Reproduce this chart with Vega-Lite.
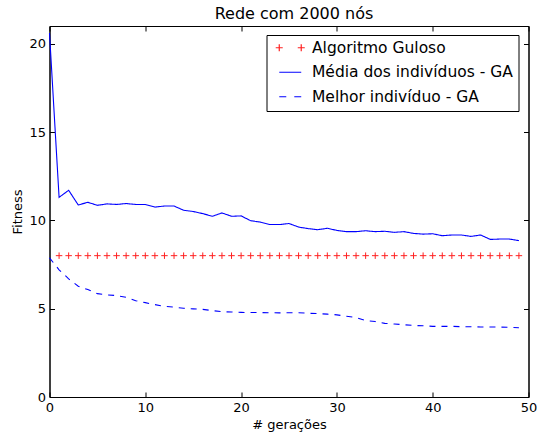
{
"$schema": "https://vega.github.io/schema/vega-lite/v6.json",
"width": 479, "height": 371,
"autosize": {"type": "none"},
"padding": {"left": 49.5, "top": 26, "right": 8.5, "bottom": 37},
"title": {"text": "Rede com 2000 nós", "fontSize": 16, "font": "DejaVu Sans", "fontWeight": "normal", "color": "black", "offset": 4, "frame": "group", "anchor": "middle", "dx": 5},
"config": {
  "font": "DejaVu Sans",
  "view": {"stroke": "black", "strokeWidth": 1},
  "axis": {"domainColor": "black", "tickColor": "black", "labelColor": "black", "titleColor": "black", "labelFontSize": 13, "titleFontSize": 13, "titleFontWeight": "normal", "grid": false, "tickSize": -5, "labelFlush": false, "labelFont": "DejaVu Sans", "titleFont": "DejaVu Sans"}
},
"data": {"values": [
{"g":0,"s":"Média dos indivíduos - GA","v":20.6},{"g":1,"s":"Média dos indivíduos - GA","v":11.3},{"g":2,"s":"Média dos indivíduos - GA","v":11.7},{"g":3,"s":"Média dos indivíduos - GA","v":10.87},{"g":4,"s":"Média dos indivíduos - GA","v":11.02},{"g":5,"s":"Média dos indivíduos - GA","v":10.85},{"g":6,"s":"Média dos indivíduos - GA","v":10.93},{"g":7,"s":"Média dos indivíduos - GA","v":10.9},{"g":8,"s":"Média dos indivíduos - GA","v":10.95},{"g":9,"s":"Média dos indivíduos - GA","v":10.9},
{"g":10,"s":"Média dos indivíduos - GA","v":10.9},{"g":11,"s":"Média dos indivíduos - GA","v":10.75},{"g":12,"s":"Média dos indivíduos - GA","v":10.81},{"g":13,"s":"Média dos indivíduos - GA","v":10.81},{"g":14,"s":"Média dos indivíduos - GA","v":10.57},{"g":15,"s":"Média dos indivíduos - GA","v":10.5},{"g":16,"s":"Média dos indivíduos - GA","v":10.38},{"g":17,"s":"Média dos indivíduos - GA","v":10.23},{"g":18,"s":"Média dos indivíduos - GA","v":10.42},{"g":19,"s":"Média dos indivíduos - GA","v":10.23},
{"g":20,"s":"Média dos indivíduos - GA","v":10.25},{"g":21,"s":"Média dos indivíduos - GA","v":9.98},{"g":22,"s":"Média dos indivíduos - GA","v":9.9},{"g":23,"s":"Média dos indivíduos - GA","v":9.76},{"g":24,"s":"Média dos indivíduos - GA","v":9.76},{"g":25,"s":"Média dos indivíduos - GA","v":9.82},{"g":26,"s":"Média dos indivíduos - GA","v":9.62},{"g":27,"s":"Média dos indivíduos - GA","v":9.53},{"g":28,"s":"Média dos indivíduos - GA","v":9.47},{"g":29,"s":"Média dos indivíduos - GA","v":9.55},
{"g":30,"s":"Média dos indivíduos - GA","v":9.43},{"g":31,"s":"Média dos indivíduos - GA","v":9.36},{"g":32,"s":"Média dos indivíduos - GA","v":9.36},{"g":33,"s":"Média dos indivíduos - GA","v":9.41},{"g":34,"s":"Média dos indivíduos - GA","v":9.36},{"g":35,"s":"Média dos indivíduos - GA","v":9.38},{"g":36,"s":"Média dos indivíduos - GA","v":9.32},{"g":37,"s":"Média dos indivíduos - GA","v":9.36},{"g":38,"s":"Média dos indivíduos - GA","v":9.26},{"g":39,"s":"Média dos indivíduos - GA","v":9.22},
{"g":40,"s":"Média dos indivíduos - GA","v":9.24},{"g":41,"s":"Média dos indivíduos - GA","v":9.13},{"g":42,"s":"Média dos indivíduos - GA","v":9.17},{"g":43,"s":"Média dos indivíduos - GA","v":9.17},{"g":44,"s":"Média dos indivíduos - GA","v":9.09},{"g":45,"s":"Média dos indivíduos - GA","v":9.17},{"g":46,"s":"Média dos indivíduos - GA","v":8.92},{"g":47,"s":"Média dos indivíduos - GA","v":8.94},{"g":48,"s":"Média dos indivíduos - GA","v":8.94},{"g":49,"s":"Média dos indivíduos - GA","v":8.85},
{"g":0,"s":"Melhor indivíduo - GA","v":7.88},{"g":1,"s":"Melhor indivíduo - GA","v":7.2},{"g":2,"s":"Melhor indivíduo - GA","v":6.69},{"g":3,"s":"Melhor indivíduo - GA","v":6.27},{"g":4,"s":"Melhor indivíduo - GA","v":6.08},{"g":5,"s":"Melhor indivíduo - GA","v":5.85},{"g":6,"s":"Melhor indivíduo - GA","v":5.78},{"g":7,"s":"Melhor indivíduo - GA","v":5.74},{"g":8,"s":"Melhor indivíduo - GA","v":5.64},{"g":9,"s":"Melhor indivíduo - GA","v":5.45},
{"g":10,"s":"Melhor indivíduo - GA","v":5.34},{"g":11,"s":"Melhor indivíduo - GA","v":5.23},{"g":12,"s":"Melhor indivíduo - GA","v":5.13},{"g":13,"s":"Melhor indivíduo - GA","v":5.09},{"g":14,"s":"Melhor indivíduo - GA","v":5.02},{"g":15,"s":"Melhor indivíduo - GA","v":4.99},{"g":16,"s":"Melhor indivíduo - GA","v":4.96},{"g":17,"s":"Melhor indivíduo - GA","v":4.89},{"g":18,"s":"Melhor indivíduo - GA","v":4.83},{"g":19,"s":"Melhor indivíduo - GA","v":4.81},
{"g":20,"s":"Melhor indivíduo - GA","v":4.79},{"g":21,"s":"Melhor indivíduo - GA","v":4.78},{"g":22,"s":"Melhor indivíduo - GA","v":4.78},{"g":23,"s":"Melhor indivíduo - GA","v":4.77},{"g":24,"s":"Melhor indivíduo - GA","v":4.76},{"g":25,"s":"Melhor indivíduo - GA","v":4.77},{"g":26,"s":"Melhor indivíduo - GA","v":4.77},{"g":27,"s":"Melhor indivíduo - GA","v":4.74},{"g":28,"s":"Melhor indivíduo - GA","v":4.72},{"g":29,"s":"Melhor indivíduo - GA","v":4.69},
{"g":30,"s":"Melhor indivíduo - GA","v":4.65},{"g":31,"s":"Melhor indivíduo - GA","v":4.57},{"g":32,"s":"Melhor indivíduo - GA","v":4.5},{"g":33,"s":"Melhor indivíduo - GA","v":4.32},{"g":34,"s":"Melhor indivíduo - GA","v":4.27},{"g":35,"s":"Melhor indivíduo - GA","v":4.17},{"g":36,"s":"Melhor indivíduo - GA","v":4.13},{"g":37,"s":"Melhor indivíduo - GA","v":4.09},{"g":38,"s":"Melhor indivíduo - GA","v":4.05},{"g":39,"s":"Melhor indivíduo - GA","v":4.03},
{"g":40,"s":"Melhor indivíduo - GA","v":4.0},{"g":41,"s":"Melhor indivíduo - GA","v":4.0},{"g":42,"s":"Melhor indivíduo - GA","v":4.0},{"g":43,"s":"Melhor indivíduo - GA","v":3.98},{"g":44,"s":"Melhor indivíduo - GA","v":3.98},{"g":45,"s":"Melhor indivíduo - GA","v":3.96},{"g":46,"s":"Melhor indivíduo - GA","v":3.96},{"g":47,"s":"Melhor indivíduo - GA","v":3.96},{"g":48,"s":"Melhor indivíduo - GA","v":3.94},{"g":49,"s":"Melhor indivíduo - GA","v":3.92},
{"g":1,"s":"Algoritmo Guloso","v":8},{"g":2,"s":"Algoritmo Guloso","v":8},{"g":3,"s":"Algoritmo Guloso","v":8},{"g":4,"s":"Algoritmo Guloso","v":8},{"g":5,"s":"Algoritmo Guloso","v":8},{"g":6,"s":"Algoritmo Guloso","v":8},{"g":7,"s":"Algoritmo Guloso","v":8},{"g":8,"s":"Algoritmo Guloso","v":8},{"g":9,"s":"Algoritmo Guloso","v":8},
{"g":10,"s":"Algoritmo Guloso","v":8},{"g":11,"s":"Algoritmo Guloso","v":8},{"g":12,"s":"Algoritmo Guloso","v":8},{"g":13,"s":"Algoritmo Guloso","v":8},{"g":14,"s":"Algoritmo Guloso","v":8},{"g":15,"s":"Algoritmo Guloso","v":8},{"g":16,"s":"Algoritmo Guloso","v":8},{"g":17,"s":"Algoritmo Guloso","v":8},{"g":18,"s":"Algoritmo Guloso","v":8},{"g":19,"s":"Algoritmo Guloso","v":8},
{"g":20,"s":"Algoritmo Guloso","v":8},{"g":21,"s":"Algoritmo Guloso","v":8},{"g":22,"s":"Algoritmo Guloso","v":8},{"g":23,"s":"Algoritmo Guloso","v":8},{"g":24,"s":"Algoritmo Guloso","v":8},{"g":25,"s":"Algoritmo Guloso","v":8},{"g":26,"s":"Algoritmo Guloso","v":8},{"g":27,"s":"Algoritmo Guloso","v":8},{"g":28,"s":"Algoritmo Guloso","v":8},{"g":29,"s":"Algoritmo Guloso","v":8},
{"g":30,"s":"Algoritmo Guloso","v":8},{"g":31,"s":"Algoritmo Guloso","v":8},{"g":32,"s":"Algoritmo Guloso","v":8},{"g":33,"s":"Algoritmo Guloso","v":8},{"g":34,"s":"Algoritmo Guloso","v":8},{"g":35,"s":"Algoritmo Guloso","v":8},{"g":36,"s":"Algoritmo Guloso","v":8},{"g":37,"s":"Algoritmo Guloso","v":8},{"g":38,"s":"Algoritmo Guloso","v":8},{"g":39,"s":"Algoritmo Guloso","v":8},
{"g":40,"s":"Algoritmo Guloso","v":8},{"g":41,"s":"Algoritmo Guloso","v":8},{"g":42,"s":"Algoritmo Guloso","v":8},{"g":43,"s":"Algoritmo Guloso","v":8},{"g":44,"s":"Algoritmo Guloso","v":8},{"g":45,"s":"Algoritmo Guloso","v":8},{"g":46,"s":"Algoritmo Guloso","v":8},{"g":47,"s":"Algoritmo Guloso","v":8},{"g":48,"s":"Algoritmo Guloso","v":8},{"g":49,"s":"Algoritmo Guloso","v":8}
]},
"layer": [
  {
    "transform": [{"filter": "datum.s != 'Algoritmo Guloso'"}],
    "mark": {"type": "line", "strokeWidth": 1.1},
    "encoding": {
      "x": {"field": "g", "type": "quantitative", "scale": {"domain": [0, 50], "nice": false}, "axis": {"values": [0, 10, 20, 30, 40, 50], "title": "# gerações", "labelPadding": 9, "titlePadding": 4}},
      "y": {"field": "v", "type": "quantitative", "scale": {"domain": [0, 21], "nice": false}, "axis": {"values": [0, 5, 10, 15, 20], "title": "Fitness", "labelPadding": 9, "titlePadding": 4}},
      "color": {"field": "s", "type": "nominal",
        "scale": {"domain": ["Algoritmo Guloso", "Média dos indivíduos - GA", "Melhor indivíduo - GA"], "range": ["#ff2020", "#0000ff", "#0000ff"]},
        "legend": {"orient": "none", "legendX": 217, "legendY": 9, "title": null, "strokeColor": "black", "fillColor": "white", "padding": 5, "labelFontSize": 15.5, "labelFont": "DejaVu Sans", "labelColor": "black", "labelLimit": 400, "symbolSize": 144, "symbolType": "stroke", "symbolStrokeWidth": 1.2, "symbolOffset": 11, "labelOffset": 14, "rowPadding": 7.5, "cornerRadius": 0,
          "encode": {"symbols": {"update": {
            "shape": {"signal": "datum.value === 'Algoritmo Guloso' ? 'M-2.42,0L-1.25,0M-1.83,-0.58L-1.83,0.58M1.25,0L2.42,0M1.83,-0.58L1.83,0.58' : 'M-1.83,0L1.83,0'"},
            "strokeDash": {"signal": "datum.value === 'Melhor indivíduo - GA' ? [7,8] : [1,0]"}
          }}}
        }},
      "strokeDash": {"field": "s", "type": "nominal", "scale": {"domain": ["Média dos indivíduos - GA", "Melhor indivíduo - GA"], "range": [[1, 0], [6, 6]]}, "legend": null}
    }
  },
  {
    "transform": [{"filter": "datum.s == 'Algoritmo Guloso'"}],
    "mark": {"type": "point", "shape": "M-1,0L1,0M0,-1L0,1", "filled": false, "size": 42, "strokeWidth": 1, "opacity": 1, "color": "#ff2020"},
    "encoding": {
      "x": {"field": "g", "type": "quantitative", "axis": {"orient": "top", "values": [0, 10, 20, 30, 40, 50], "labels": false, "title": null}},
      "y": {"field": "v", "type": "quantitative", "axis": {"orient": "right", "values": [0, 5, 10, 15, 20], "labels": false, "title": null}}
    }
  }
],
"resolve": {"axis": {"x": "independent", "y": "independent"}}
}
